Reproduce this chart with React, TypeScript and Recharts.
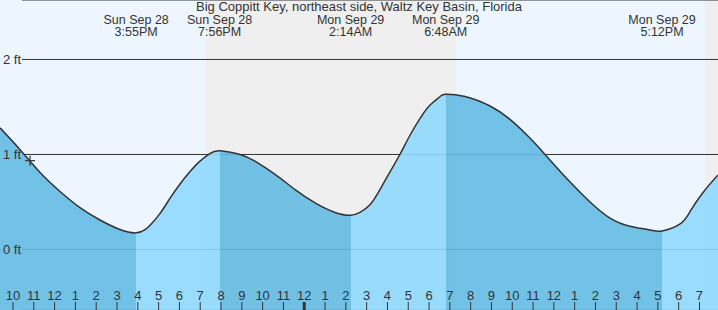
import React from 'react'
import {
  AreaChart,
  Area,
  XAxis,
  YAxis,
  CartesianGrid,
  ReferenceArea,
  ReferenceLine,
  ReferenceDot,
} from 'recharts'

const W = 718
const H = 310
const FONT = '"Liberation Sans", Arial, sans-serif'
const INK = '#333333'
const DAY_BG = '#edf6fe'
const NIGHT_BG = '#efefef'
const FALLING = '#64bbe3'
const RISING = '#90d9fd'

const title = 'Big Coppitt Key, northeast side, Waltz Key Basin, Florida'

// hours since Sun Sep 28 00:00
const times = [
  9.375, 10.34, 11.3, 12.26, 13.22, 14.18, 15.14, 15.92, 16.35, 16.59, 17.07, 17.55,
  18.03, 18.51, 18.99, 19.47, 19.93, 20.91, 21.63, 22.6, 23.56, 24.52, 25.48, 26.23,
  26.68, 27.16, 27.64, 28.13, 28.61, 29.09, 29.57, 30.05, 30.53, 30.8, 31.73, 32.93,
  33.89, 34.86, 35.82, 36.78, 37.74, 38.7, 39.66, 40.63, 41.2, 42.07, 42.55, 43.17, 43.89,
]
// tide height, ft
const heights = [
  1.28, 1.05, 0.81, 0.61, 0.44, 0.31, 0.21, 0.175, 0.21, 0.255, 0.38, 0.54,
  0.69, 0.82, 0.93, 1.01, 1.04, 1.0, 0.93, 0.79, 0.63, 0.49, 0.39, 0.36,
  0.39, 0.47, 0.63, 0.82, 1.005, 1.205, 1.38, 1.52, 1.61, 1.635, 1.61, 1.51,
  1.37, 1.17, 0.94, 0.71, 0.5, 0.33, 0.245, 0.205, 0.195, 0.27, 0.4, 0.6, 0.785,
]

const eventTimes = [15.92, 19.93, 26.23, 30.8, 41.2]
const eventKinds = ['low', 'high', 'low', 'high', 'low']
const eventDays = ['Sun Sep 28', 'Sun Sep 28', 'Mon Sep 29', 'Mon Sep 29', 'Mon Sep 29']
const eventClock = ['3:55PM', '7:56PM', '2:14AM', '6:48AM', '5:12PM']

const nightStart = [19.28, 43.28]
const nightEnd = [31.28, 43.89]

const hourTicks = [
  10, 11, 12, 13, 14, 15, 16, 17, 18, 19, 20, 21, 22, 23, 24, 25, 26,
  27, 28, 29, 30, 31, 32, 33, 34, 35, 36, 37, 38, 39, 40, 41, 42, 43,
]
const ftTicks = [0, 1, 2]

const nowTime = 10.82
const nowHeight = 0.935

const HourTick = (props: any) => {
  const { x, payload } = props
  const hr = payload.value
  const label = hr % 12 === 0 ? 12 : hr % 12
  return (
    <g>
      <line x1={x} x2={x} y1={H - 8} y2={H} stroke={INK} strokeWidth={hr === 24 ? 3 : 1} />
      <text x={x} y={H - 10} textAnchor="middle" fontSize={13} fill={INK} fontFamily={FONT}>
        {label}
      </text>
    </g>
  )
}

const FtTick = (props: any) => {
  const { y, payload } = props
  return (
    <text x={3} y={y} dy={4.5} fontSize={13} fill={INK} fontFamily={FONT}>
      {`${payload.value} ft`}
    </text>
  )
}

const EventLabel = (props: any) => {
  const { viewBox, day, clock } = props
  const cx = viewBox.x
  return (
    <g fontSize={12.5} fill={INK} fontFamily={FONT} textAnchor="middle">
      <text x={cx} y={23.5}>{day}</text>
      <text x={cx} y={36}>{clock}</text>
    </g>
  )
}

export default function App() {
  const data = times.map((t, i) => ({ t, h: heights[i] }))
  const t0 = times[0]
  const t1 = times[times.length - 1]

  // hard colour stops: dark while falling, light while rising
  const stops: React.ReactElement[] = []
  let prev = 0
  let rising = false
  eventTimes.forEach((et, i) => {
    const off = (et - t0) / (t1 - t0)
    const c = rising ? RISING : FALLING
    stops.push(<stop key={`a${i}`} offset={prev} stopColor={c} />)
    stops.push(<stop key={`b${i}`} offset={off} stopColor={c} />)
    prev = off
    rising = eventKinds[i] === 'low'
  })
  const last = rising ? RISING : FALLING
  stops.push(<stop key="a-last" offset={prev} stopColor={last} />)
  stops.push(<stop key="b-last" offset={1} stopColor={last} />)

  return (
    <div
      style={{
        position: 'absolute',
        left: 0,
        top: 0,
        width: W,
        height: H,
        background: DAY_BG,
        fontFamily: FONT,
        overflow: 'hidden',
      }}
    >
      <AreaChart width={W} height={H} data={data} margin={{ top: 0, right: 0, bottom: 0, left: 0 }}>
        <defs>
          <linearGradient id="tideFill" x1="0" y1="0" x2="1" y2="0">
            {stops}
          </linearGradient>
        </defs>
        <CartesianGrid
          vertical={false}
          horizontal={(p: any) => (
            <line key={`g${p.index}`} x1={22} x2={p.x2} y1={p.y1} y2={p.y2} stroke={INK} strokeWidth={1} />
          )}
        />
        {nightStart.map((s, i) => (
          <ReferenceArea
            key={`n${i}`}
            x1={s}
            x2={nightEnd[i]}
            fill={NIGHT_BG}
            fillOpacity={1}
            stroke="none"
            ifOverflow="visible"
            zIndex={-150}
          />
        ))}
        <XAxis
          dataKey="t"
          type="number"
          domain={[t0, t1]}
          ticks={hourTicks}
          interval={0}
          mirror
          axisLine={false}
          tickLine={false}
          tick={<HourTick />}
        />
        <YAxis
          type="number"
          domain={[-0.637, 2.626]}
          ticks={ftTicks}
          interval={0}
          mirror
          axisLine={false}
          tickLine={false}
          tick={<FtTick />}
        />
        <Area
          type="natural"
          dataKey="h"
          baseValue="dataMin"
          stroke={INK}
          strokeWidth={1.5}
          fill="url(#tideFill)"
          fillOpacity={0.9}
          dot={false}
          activeDot={false}
          isAnimationActive={false}
        />
        {eventTimes.map((et, i) => (
          <ReferenceLine
            key={`e${i}`}
            x={et}
            stroke="none"
            ifOverflow="visible"
            label={<EventLabel day={eventDays[i]} clock={eventClock[i]} />}
          />
        ))}
        <ReferenceDot
          x={nowTime}
          y={nowHeight}
          ifOverflow="visible"
          shape={(p: any) => (
            <g stroke={INK} strokeWidth={1.2}>
              <line x1={p.cx - 5} x2={p.cx + 5} y1={p.cy} y2={p.cy} />
              <line x1={p.cx} x2={p.cx} y1={p.cy - 5} y2={p.cy + 5} />
            </g>
          )}
        />
      </AreaChart>
      <div
        style={{
          position: 'absolute',
          left: 0,
          top: 0,
          width: W,
          textAlign: 'center',
          fontSize: 13,
          lineHeight: '13px',
          color: INK,
        }}
      >
        {title}
      </div>
    </div>
  )
}
